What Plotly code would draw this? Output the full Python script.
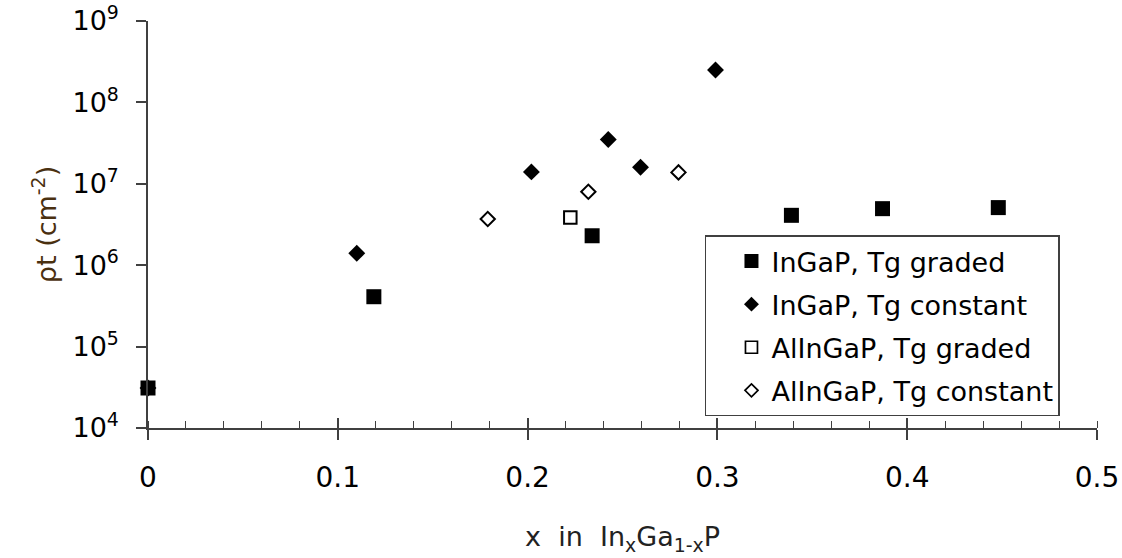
import plotly.graph_objects as go

# Data
ingap_graded_x = [0.0, 0.119, 0.234, 0.339, 0.387, 0.448]
ingap_graded_y = [3.1e4, 4.1e5, 2.3e6, 4.1e6, 4.95e6, 5.1e6]

ingap_const_x = [0.0, 0.110, 0.202, 0.2425, 0.2595, 0.299]
ingap_const_y = [3.1e4, 1.4e6, 1.4e7, 3.5e7, 1.6e7, 2.5e8]

alingap_graded_x = [0.2225]
alingap_graded_y = [3.85e6]

alingap_const_x = [0.179, 0.232, 0.2795]
alingap_const_y = [3.7e6, 8.0e6, 1.38e7]

series_names = ["InGaP, Tg graded", "InGaP, Tg constant",
                "AlInGaP, Tg graded", "AlInGaP, Tg constant"]

y_tick_vals = [1e4, 1e5, 1e6, 1e7, 1e8, 1e9]
y_tick_text = ["10<sup>4</sup>", "10<sup>5</sup>", "10<sup>6</sup>",
               "10<sup>7</sup>", "10<sup>8</sup>", "10<sup>9</sup>"]

FONT = "DejaVu Sans"
AX = "#404040"

styles = [
    dict(symbol="square", size=15, color="black", line=dict(width=0)),
    dict(symbol="diamond", size=13, color="black", line=dict(width=0)),
    dict(symbol="square-open", size=12.5, color="black", line=dict(width=2, color="black")),
    dict(symbol="diamond-open", size=11, color="black", line=dict(width=2, color="black")),
]
legend_styles = [
    dict(symbol="square", size=14, color="black", line=dict(width=0)),
    dict(symbol="diamond", size=11.5, color="black", line=dict(width=0)),
    dict(symbol="square-open", size=12, color="black", line=dict(width=1.7, color="black")),
    dict(symbol="diamond-open", size=10, color="black", line=dict(width=1.7, color="black")),
]

data = [(ingap_graded_x, ingap_graded_y), (ingap_const_x, ingap_const_y),
        (alingap_graded_x, alingap_graded_y), (alingap_const_x, alingap_const_y)]

fig = go.Figure()
for i, (xs, ys) in enumerate(data):
    fig.add_trace(go.Scatter(x=xs, y=ys, mode="markers", marker=styles[i],
                             showlegend=False, cliponaxis=False, hoverinfo="x+y"))
for i, name in enumerate(series_names):
    fig.add_trace(go.Scatter(x=[None], y=[None], mode="markers", name=name,
                             marker=legend_styles[i], legendgroup=f"g{i}",
                             showlegend=True))

fig.update_layout(
    width=1122, height=558,
    margin=dict(l=148, r=25, t=21, b=130, pad=0),
    paper_bgcolor="white", plot_bgcolor="white",
    font=dict(family=FONT, size=27, color="black"),
    showlegend=True,
    legend=dict(
        x=0.5869, y=0.473, xanchor="left", yanchor="top",
        bgcolor="white", bordercolor=AX, borderwidth=1.5,
        font=dict(family=FONT, size=27, color="black"),
        itemsizing="trace", tracegroupgap=5, indentation=25,
    ),
    xaxis=dict(
        range=[0, 0.5], tick0=0, dtick=0.1, showgrid=False, zeroline=False,
        automargin=False,
        showline=True, linecolor=AX, linewidth=1.5,
        ticks="outside", ticklen=10, tickwidth=1.5, tickcolor=AX,
        ticklabelstandoff=14, ticklabeloverflow="allow",
        tickfont=dict(family=FONT, size=28, color="black"),
        minor=dict(dtick=0.02, tick0=0, ticks="inside", ticklen=7,
                   tickwidth=1.2, tickcolor=AX, showgrid=False),
        title=dict(text="x  in  In<sub>x</sub>Ga<sub>1-x</sub>P",
                   font=dict(family=FONT, size=27, color="#222222"), standoff=34),
    ),
    xaxis2=dict(
        range=[0, 0.5], tick0=0, dtick=0.1, overlaying="x", anchor="y", side="bottom",
        showgrid=False, zeroline=False, showline=False, showticklabels=False,
        automargin=False,
        ticks="inside", ticklen=10, tickwidth=1.5, tickcolor=AX,
    ),
    yaxis=dict(
        type="log", range=[4, 9.00001], showgrid=False, zeroline=False,
        automargin=False,
        showline=True, linecolor=AX, linewidth=1.5,
        tickvals=y_tick_vals, ticktext=y_tick_text,
        ticks="outside", ticklen=10, tickwidth=1.5, tickcolor=AX,
        ticklabelstandoff=12, ticklabeloverflow="allow",
        tickfont=dict(family=FONT, size=27, color="black"),
        title=dict(text="\u03c1t (cm<sup>-2</sup>)",
                   font=dict(family=FONT, size=27, color="#4a3010"), standoff=8),
    ),
)
fig.add_trace(go.Scatter(x=[None], y=[None], xaxis="x2", yaxis="y",
                         showlegend=False, hoverinfo="skip"))

fig.write_html("out.html")
